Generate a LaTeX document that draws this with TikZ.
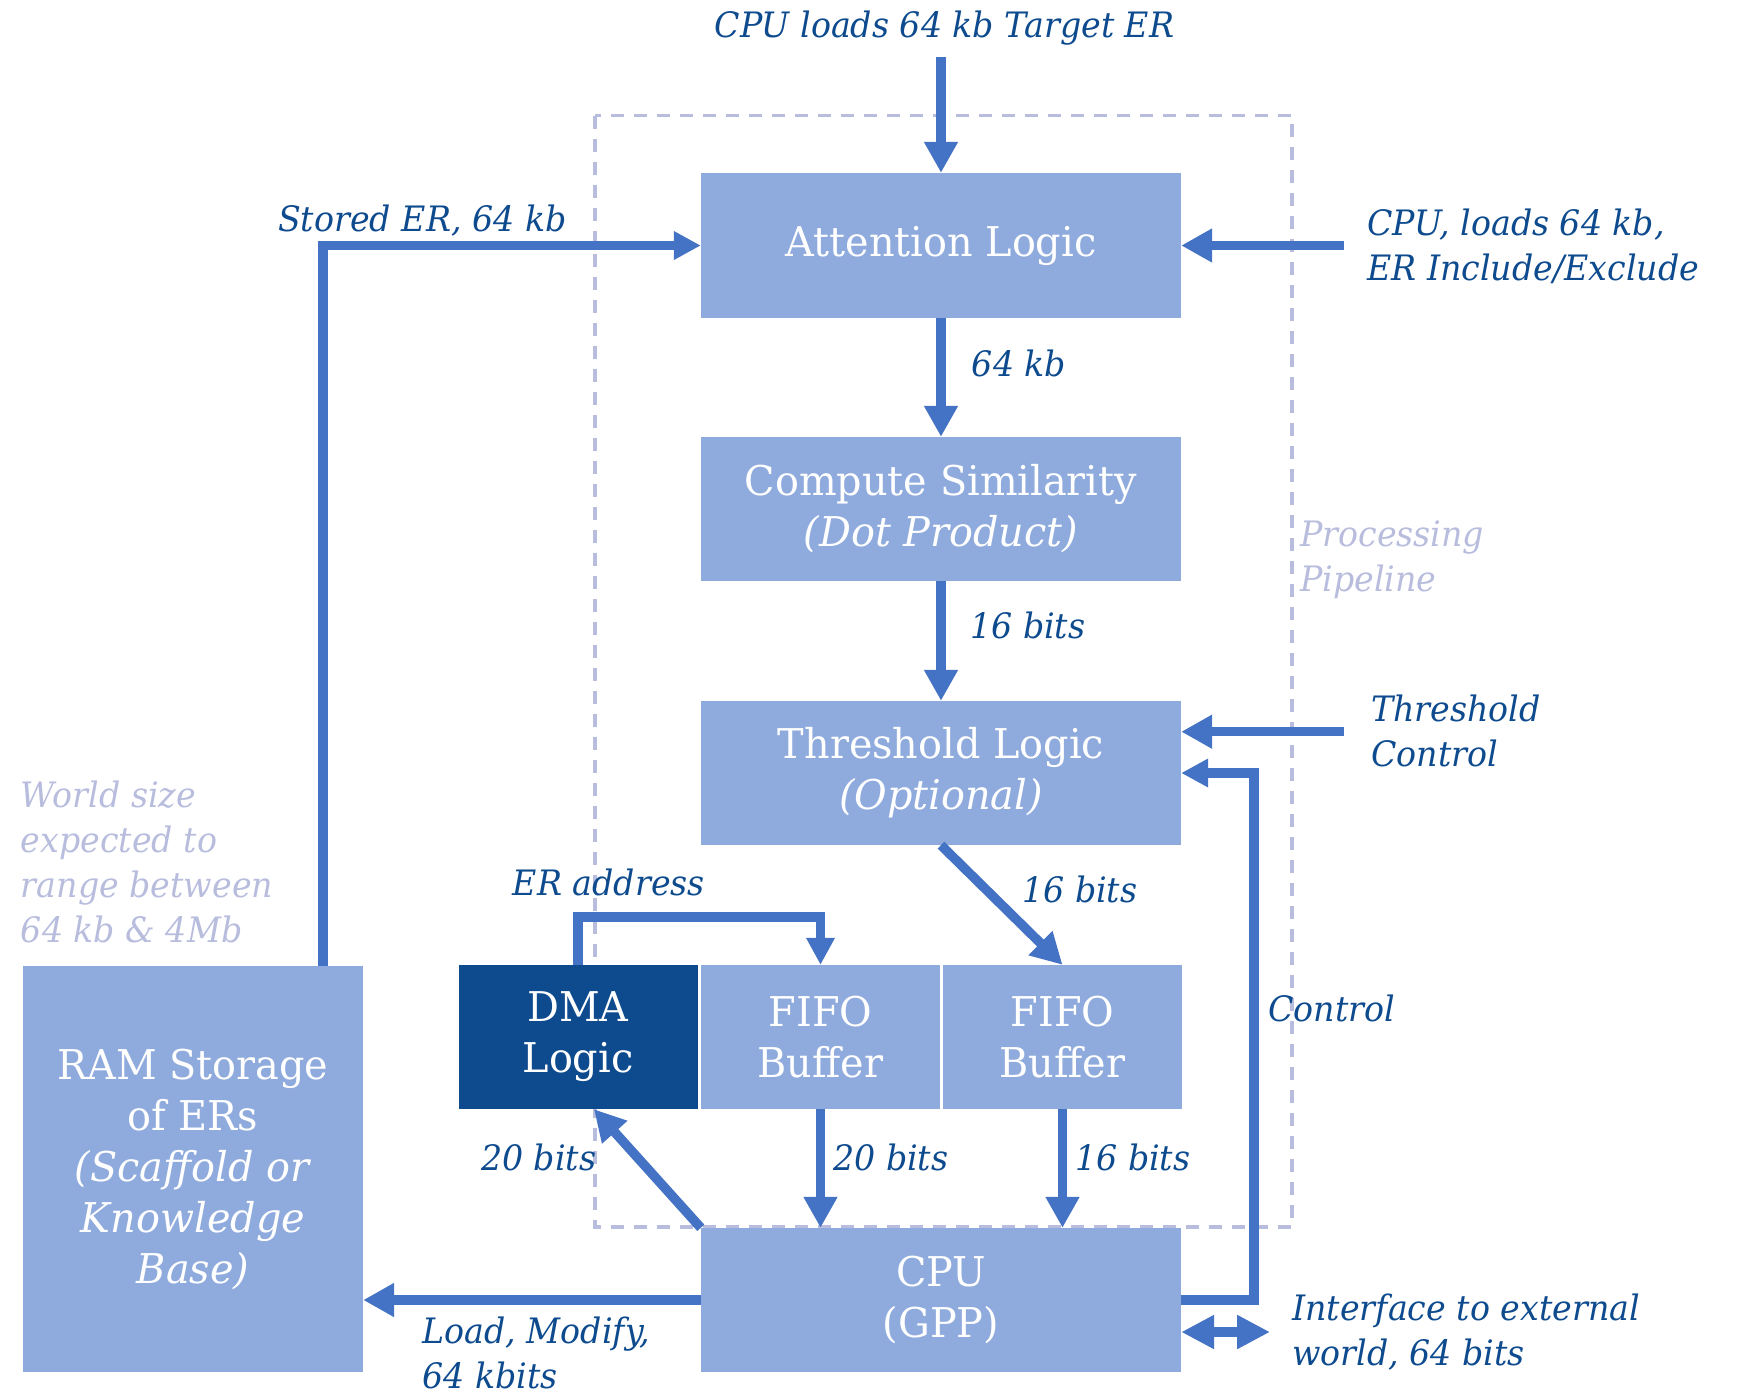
\documentclass[tikz,border=0pt]{standalone}
\usepackage{fontspec}
\setmainfont{DejaVu Serif}[FakeStretch=0.97]
\newfontfamily\tagfont{DejaVu Serif}[FakeStretch=0.95]
\usetikzlibrary{arrows.meta,calc}

\definecolor{boxfill}{HTML}{8FAADC}
\definecolor{flow}{HTML}{4472C4}
\definecolor{navy}{HTML}{0E4B8E}
\definecolor{haze}{HTML}{B8BDDD}

\tikzset{
  blk/.style={fill=boxfill, text=white, inner sep=0pt, align=center,
    font=\fontsize{41}{51}\selectfont},
  widebox/.style={blk, minimum width=480pt, minimum height=144pt},
  cellbox/.style={blk, minimum width=239pt, minimum height=144pt},
  flowline/.style={draw=flow, line width=9.5pt},
  bigtip/.style={flowline, -{Triangle[length=31pt,width=32pt]}},
  smalltip/.style={flowline, -{Triangle[length=27pt,width=27pt]}},
  lbl/.style={text=navy, inner sep=0pt, align=left,
    font=\tagfont\fontsize{35}{45}\selectfont\itshape},
  note/.style={text=haze, inner sep=0pt, align=left,
    font=\tagfont\fontsize{35}{45}\selectfont\itshape},
  pipeline/.style={draw=haze, line width=3.5pt, dash pattern=on 13pt off 10pt}
}

\begin{document}
\begin{tikzpicture}[x=1pt,y=-1pt]
\useasboundingbox (0,0) rectangle (1744,1395);

% processing pipeline frame
\draw[pipeline] (595,115.7) rectangle (1292,1227);

% blocks
\node[widebox, minimum height=145pt] (att) at (941,245.5) {Attention Logic};
\node[widebox] (sim) at (941,509) {Compute Similarity\\\textit{(Dot Product)}};
\node[widebox] (thr) at (941,773) {Threshold Logic\\\textit{(Optional)}};
\node[cellbox, fill=navy] (dma) at (578,1037) {DMA\\Logic};
\node[cellbox] (fifoA) at (820.5,1037) {FIFO\\Buffer};
\node[cellbox] (fifoB) at (1062.5,1037) {FIFO\\Buffer};
\node[widebox] (cpu) at (941,1300) {CPU\\(GPP)};
\node[blk, minimum width=340pt, minimum height=406pt] (ram) at (193,1169)
  {RAM Storage\\of ERs\\\textit{(Scaffold or}\\\textit{Knowledge}\\\textit{Base)}};

% free ends of the external inputs
\coordinate (target) at (941,57);
\coordinate (incl) at (1344,245.5);
\coordinate (thctl) at (1344,731.7);
\coordinate (ext) at (1270,1332);

% connectors
\draw[bigtip] (target) -- (att.north);
\draw[bigtip] (att.south) -- (sim.north);
\draw[bigtip] (sim.south) -- (thr.north);
\draw[bigtip] (thr.south) -- (fifoB.north);
\draw[bigtip] (incl) -- (att.east);
\draw[bigtip] (thctl) -- (thctl -| thr.east);
\draw[smalltip] ([xshift=-40pt]ram.north east) |- (att.west);
\draw[smalltip] (dma.north) -- ++(0,-48) -| (fifoA.north);
\draw[smalltip] (cpu.east) -- ++(73,0) |- (thr.east);
\draw[bigtip] (cpu.north west) -- ([xshift=16pt]dma.south);
\draw[bigtip] (fifoA.south) -- (fifoA.south |- cpu.north);
\draw[bigtip] (fifoB.south) -- (fifoB.south |- cpu.north);
\draw[bigtip] (cpu.west) -- (cpu.west -| ram.east);
\draw[flowline, {Triangle[length=33pt,width=32pt]}-{Triangle[length=33pt,width=32pt]}]
  ([yshift=-32pt]cpu.east) -- (ext);

% labels (multi-line labels are placed by the baseline of their last line)
\node[lbl, anchor=base] (ltarget) at (944.5,37) {CPU loads 64 kb Target ER};
\node[lbl, anchor=base west] (lstored) at (278,231.7) {Stored ER, 64 kb};
\node[lbl, anchor=base west] (l64) at (971.7,376.7) {64 kb};
\node[lbl, anchor=base west] (l16a) at (970,638) {16 bits};
\node[lbl, anchor=base west] (lincl) at (1367,280) {CPU, loads 64 kb,\\ER Include/Exclude};
\node[lbl, anchor=base west] (lthr) at (1371,766.7) {Threshold\\Control};
\node[lbl, anchor=base west] (laddr) at (512.7,895) {ER address};
\node[lbl, anchor=base west] (l16b) at (1022,902.7) {16 bits};
\node[lbl, anchor=base west] (lctl) at (1268,1021) {Control};
\node[lbl, anchor=base west] (l20a) at (480.8,1170) {20 bits};
\node[lbl, anchor=base west] (l20b) at (833,1170) {20 bits};
\node[lbl, anchor=base west] (l16c) at (1075,1170) {16 bits};
\node[lbl, anchor=base west] (lload) at (422.4,1388.5) {Load, Modify,\\64 kbits};
\node[lbl, anchor=base west] (lext) at (1292,1365.7) {Interface to external\\world, 64 bits};
\node[note, anchor=base west] (lpipe) at (1300,591.7) {Processing\\Pipeline};
\node[note, anchor=base west] (lworld) at (20.7,942) {World size\\expected to\\range between\\64 kb \& 4Mb};
\end{tikzpicture}
\end{document}
